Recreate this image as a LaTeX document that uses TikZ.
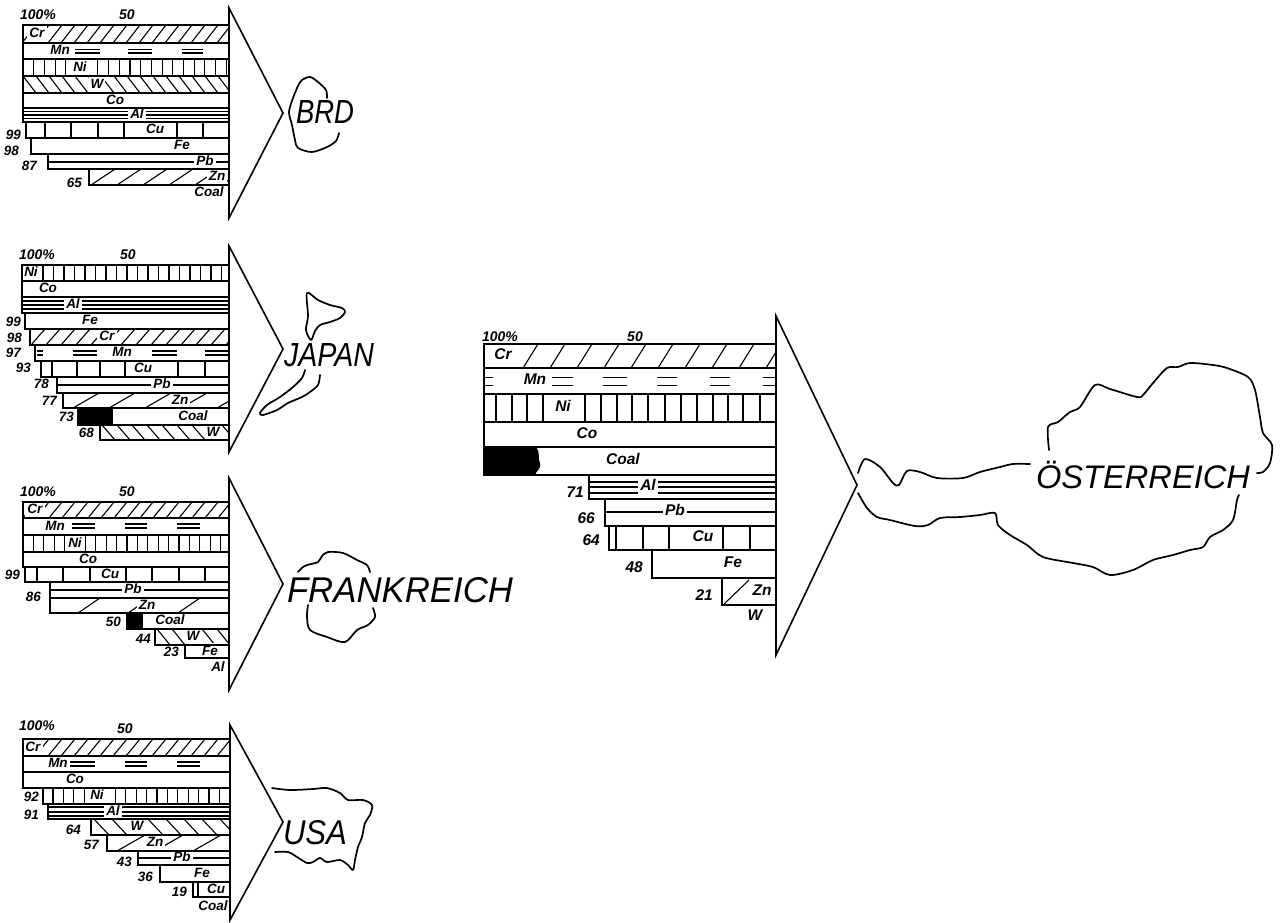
\documentclass[tikz,border=0pt]{standalone}
\usepackage{fontspec}
\setmainfont{Liberation Sans}
\usepackage{graphicx}
\tikzset{
 row/.style={line width=1.6pt, line join=miter},
 pat/.style={line width=1.1pt},
 tri/.style={line width=1.6pt, line join=miter},
 outl/.style={line width=1.7pt, line cap=round, line join=round},
 lab/.style={font=\bfseries\itshape\fontsize{13.5}{13.5}\selectfont, inner xsep=2pt, inner ysep=2.2pt, text height=9.5pt, text depth=2.5pt, fill=white},
 labA/.style={font=\bfseries\itshape\fontsize{15.5}{15.5}\selectfont, inner xsep=2.5pt, inner ysep=4pt, text height=11pt, text depth=4pt, fill=white},
 top/.style={font=\bfseries\itshape\fontsize{14}{14}\selectfont, inner sep=0pt},
 num/.style={font=\bfseries\itshape\fontsize{13.5}{13.5}\selectfont, inner sep=1pt, anchor=east},
 numA/.style={font=\bfseries\itshape\fontsize{15.5}{15.5}\selectfont, inner sep=1pt, anchor=east},
 country/.style={font=\itshape\fontsize{32}{32}\selectfont, inner sep=0pt},
}
% x0 y0 x1 y1 spacing dx
\newcommand\hatchR[6]{%
  \begin{scope}
    \clip (#1,#2) rectangle (#3,#4);
    \pgfmathtruncatemacro\hn{(#3-#1+#6)/#5+1}
    \foreach \i in {0,...,\hn}{\draw[pat] ({#1+\i*#5-#6},#4) -- ({#1+\i*#5},#2);}
  \end{scope}}
\newcommand\hatchL[6]{%
  \begin{scope}
    \clip (#1,#2) rectangle (#3,#4);
    \pgfmathtruncatemacro\hn{(#3-#1+#6)/#5+1}
    \foreach \i in {0,...,\hn}{\draw[pat] ({#1+\i*#5-#6},#2) -- ({#1+\i*#5},#4);}
  \end{scope}}
% x0 y0 x1 y1 start spacing
\newcommand\vbarreg[6]{%
  \pgfmathtruncatemacro\vn{(#3-#5)/#6}
  \foreach \i in {0,...,\vn}{\draw[pat] ({#5+\i*#6},#2) -- ({#5+\i*#6},#4);}}
% y0 y1 list
\newcommand\vbarlist[3]{\foreach \xx in {#3}{\draw[pat] (\xx,#1) -- (\xx,#2);}}
% x0 x1 ya yb
\newcommand\mnd[4]{\draw[pat] (#1,#3) -- (#2,#3) (#1,#4) -- (#2,#4);}
\begin{document}
\begin{tikzpicture}[x=1pt,y=-1pt]
\useasboundingbox[fill=white] (0,0) rectangle (1280,922);

%================ BRD
\hatchR{23}{25}{229}{43}{13}{14}
\mnd{75}{100}{49.5}{53}\mnd{128}{152}{49.5}{53}\mnd{182}{203}{49.5}{53}
\vbarreg{23}{59}{229}{76}{33.7}{10.7}
\hatchL{23}{76}{229}{93}{13}{13}
\draw[pat] (23,111.5)--(229,111.5) (23,115)--(229,115) (23,118.5)--(229,118.5);
\vbarlist{122}{138}{45,71,98,124,177,203}
\draw[pat] (48,162)--(229,162);
\hatchR{89}{169}{229}{185}{26}{24}
\node[lab] (bCr) at (37,34) {Cr};
\node[lab] (bMn) at (60,51) {Mn};
\node[lab] (bNi) at (80,67.5) {Ni};
\node[lab] (bW) at (97,84.5) {W};
\node[lab] (bCo) at (115,100.5) {Co};
\node[lab] (bAl) at (137,115) {Al};
\node[lab] (bCu) at (155,130) {Cu};
\node[lab] (bFe) at (182,146) {Fe};
\node[lab] (bPb) at (205,161.5) {Pb};
\node[lab] (bZn) at (217,177) {Zn};
\node[lab] (bCoal) at (209,193) {Coal};
\node[num] (b99) at (22,135) {99};
\node[num] (b98) at (20,151) {98};
\node[num] (b87) at (38,166) {87};
\node[num] (b65) at (83,183) {65};
\node[top] (b100) at (38,15) {100\%};
\node[top] (b50) at (127,15) {50};
\foreach \a/\b/\c/\d in {23/25/229/43,23/43/229/59,23/59/229/76,23/76/229/93,23/93/229/108,23/108/229/122,26/122/229/138,31/138/229/154,48/154/229/169,89/169/229/185}
  \draw[row] (\a,\b) rectangle (\c,\d);
\draw[tri] (229,8) -- (283,113) -- (229,218) -- cycle;
\node[country] (brd) at (325,112) {\resizebox{58pt}{23pt}{BRD}};
\draw[outl] plot[smooth,tension=0.5] coordinates {(327,98) (326,90) (318,82) (310,77) (302,80) (298,86) (293,98) (289,112) (292,125) (295,140) (298,148) (312,152) (327,147) (336,141) (339,133)};

%================ JAPAN
\vbarreg{22}{265}{229}{281}{32.5}{10.5}
\draw[pat] (22,301)--(229,301) (22,305)--(229,305) (22,309)--(229,309);
\hatchR{30}{329}{229}{345}{15}{14}
\mnd{37}{43}{351}{355}\mnd{73}{97}{351}{355}\mnd{152}{177}{351}{355}\mnd{205}{228}{351}{355}
\vbarlist{361}{377}{52,77,100,125,178,205}
\draw[pat] (57,385)--(229,385);
\hatchR{63}{393}{229}{408}{36}{26}
\fill (78,408) rectangle (113,425);
\hatchL{100}{425}{229}{440}{15}{13}
\node[lab] (jNi) at (31,273) {Ni};
\node[lab] (jCo) at (48,289) {Co};
\node[lab] (jAl) at (73,305) {Al};
\node[lab] (jFe) at (90,321) {Fe};
\node[lab] (jCr) at (107,337) {Cr};
\node[lab] (jMn) at (122,353) {Mn};
\node[lab] (jCu) at (143,369) {Cu};
\node[lab] (jPb) at (162,385) {Pb};
\node[lab] (jZn) at (180,400.5) {Zn};
\node[lab] (jCoal) at (193,416.5) {Coal};
\node[lab] (jW) at (213,432.5) {W};
\node[num] (j99) at (22,322) {99};
\node[num] (j98) at (23,338) {98};
\node[num] (j97) at (22,353) {97};
\node[num] (j93) at (32,368) {93};
\node[num] (j78) at (50,384) {78};
\node[num] (j77) at (58,401) {77};
\node[num] (j73) at (75,417) {73};
\node[num] (j68) at (95,433) {68};
\node[top] (j100) at (37,255) {100\%};
\node[top] (j50) at (128,255) {50};
\foreach \a/\b/\c/\d in {22/265/229/281,22/281/229/297,22/297/229/313,25/313/229/329,30/329/229/345,35/345/229/361,41/361/229/377,57/377/229/393,63/393/229/408,78/408/229/425,100/425/229/440}
  \draw[row] (\a,\b) rectangle (\c,\d);
\draw[tri] (229,246) -- (283,349) -- (229,452) -- cycle;
\node[country] (japan) at (329,355) {\resizebox{90pt}{23pt}{JAPAN}};
\draw[outl] plot[smooth cycle,tension=0.5] coordinates {(311,340) (306,330) (308,316) (307,293) (318,300) (330,305) (342,308) (345,312) (340,318) (330,322) (320,325) (315,331)};
\draw[outl] plot[smooth,tension=0.5] coordinates {(305,370) (302,378) (293,387) (280,397) (267,405) (260,413) (263,415) (277,410) (288,403) (302,397) (310,392) (318,385) (320,375)};

%================ FRANKREICH
\hatchR{23}{502}{229}{518}{13}{13}
\mnd{72}{95}{524}{528}\mnd{125}{147}{524}{528}\mnd{177}{200}{524}{528}
\vbarreg{23}{535}{229}{552}{33.4}{10.4}
\vbarlist{567}{582}{37,63,90,126,152,179,205}
\draw[pat] (50,590)--(229,590);
\hatchR{50}{598}{229}{613}{50}{22}
\fill (127,613) rectangle (143,629);
\hatchL{155}{629}{229}{645}{15}{13}
\node[lab] (fCr) at (35,510) {Cr};
\node[lab] (fMn) at (55,526.5) {Mn};
\node[lab] (fNi) at (75,543.5) {Ni};
\node[lab] (fCo) at (88,559.5) {Co};
\node[lab] (fCu) at (110,574.5) {Cu};
\node[lab] (fPb) at (133,590) {Pb};
\node[lab] (fZn) at (147,605.5) {Zn};
\node[lab] (fCoal) at (170,621) {Coal};
\node[lab] (fW) at (193,637) {W};
\node[lab] (fFe) at (210,651.5) {Fe};
\node[lab] (fAl) at (218,668) {Al};
\node[num] (f99) at (21,575) {99};
\node[num] (f86) at (42,597) {86};
\node[num] (f50n) at (122,622) {50};
\node[num] (f44) at (152,639) {44};
\node[num] (f23) at (180,652) {23};
\node[top] (f100) at (38,492) {100\%};
\node[top] (f50) at (127,492) {50};
\foreach \a/\b/\c/\d in {23/502/229/518,23/518/229/535,23/535/229/552,23/552/229/567,25/567/229/582,50/582/229/598,50/598/229/613,127/613/229/629,155/629/229/645,185/645/229/658}
  \draw[row] (\a,\b) rectangle (\c,\d);
\draw[tri] (229,478) -- (283,584) -- (229,690) -- cycle;
\node[country] (frank) at (400,590) {\resizebox{226pt}{25pt}{FRANKREICH}};
\draw[outl] plot[smooth,tension=0.5] coordinates {(298,572) (303,567) (307,565) (318,562) (322,556) (328,552) (343,553) (357,560) (367,565) (370,572)};
\draw[outl] plot[smooth,tension=0.5] coordinates {(308,605) (307,617) (310,630) (327,637) (345,642) (357,630) (368,625) (375,617) (373,608)};

%================ USA
\hatchR{23}{739}{230}{756}{13}{14}
\mnd{70}{95}{762}{766}\mnd{125}{147}{762}{766}\mnd{177}{200}{762}{766}
\vbarreg{43}{788}{230}{804}{53}{10.4}
\draw[pat] (48,807)--(230,807) (48,812)--(230,812) (48,816)--(230,816);
\hatchL{91}{819}{230}{835}{18}{15}
\hatchR{107}{835}{230}{851}{38}{28}
\draw[pat] (138,858)--(230,858);
\vbarlist{882}{897}{198}
\node[lab] (uCr) at (33,747.5) {Cr};
\node[lab] (uMn) at (58,764) {Mn};
\node[lab] (uCo) at (75,780) {Co};
\node[lab] (uNi) at (97,796) {Ni};
\node[lab] (uAl) at (113,811.5) {Al};
\node[lab] (uW) at (137,827) {W};
\node[lab] (uZn) at (155,843) {Zn};
\node[lab] (uPb) at (182,858) {Pb};
\node[lab] (uFe) at (202,873.5) {Fe};
\node[lab] (uCu) at (216,889.5) {Cu};
\node[lab] (uCoal) at (213,907) {Coal};
\node[num] (u92) at (40,797) {92};
\node[num] (u91) at (40,815) {91};
\node[num] (u64) at (82,830) {64};
\node[num] (u57) at (100,845) {57};
\node[num] (u43) at (133,862) {43};
\node[num] (u36) at (154,877) {36};
\node[num] (u19) at (188,892) {19};
\node[top] (u100) at (37,726) {100\%};
\node[top] (u50) at (125,729) {50};
\foreach \a/\b/\c/\d in {23/739/230/756,23/756/230/772,23/772/230/788,43/788/230/804,48/804/230/819,91/819/230/835,107/835/230/851,138/851/230/865,160/865/230/882,193/882/230/897}
  \draw[row] (\a,\b) rectangle (\c,\d);
\draw[tri] (230,725) -- (283,822) -- (230,920) -- cycle;
\node[country] (usa) at (315,833) {\resizebox{64pt}{24pt}{USA}};
\draw[outl] plot[smooth,tension=0.5] coordinates {(272,788) (290,790) (313,789) (327,788) (340,793) (348,800) (363,800) (372,805) (370,815) (365,823) (362,837) (358,847) (355,860) (353,870) (348,865) (340,860) (327,862) (320,858) (313,862) (307,863) (297,857) (288,852) (275,852)};

%================ OESTERREICH
\hatchR{484}{344}{776}{368}{27}{15}
\mnd{485}{493}{377.5}{385.5}\mnd{552}{573}{377.5}{385.5}\mnd{603}{627}{377.5}{385.5}\mnd{657}{677}{377.5}{385.5}\mnd{710}{730}{377.5}{385.5}\mnd{763}{775}{377.5}{385.5}
\vbarlist{394}{422}{496,512,527,543,585,601,617,632,648,665,681,697,713,728,743,760}
\fill (484,447) -- (536,447) .. controls (541,452) and (537,458) .. (540,463) .. controls (542,468) and (536,471) .. (535,475) -- (484,475) -- cycle;
\draw[pat] (589,482)--(776,482) (589,487)--(776,487) (589,493)--(776,493);
\draw[pat] (605,512)--(776,512);
\vbarlist{526}{550}{616,643,669,723,750}
\draw[pat] (723,605) -- (749,580);
\node[labA] (aCr) at (503,356) {Cr};
\node[labA] (aMn) at (535,381) {Mn};
\node[labA] (aNi) at (563,408) {Ni};
\node[labA] (aCo) at (587,434.5) {Co};
\node[labA] (aCoal) at (623,461) {Coal};
\node[labA] (aAl) at (648,487) {Al};
\node[labA] (aPb) at (675,512) {Pb};
\node[labA] (aCu) at (703,538) {Cu};
\node[labA] (aFe) at (733,564) {Fe};
\node[labA] (aZn) at (762,592) {Zn};
\node[labA] (aW) at (755,617) {W};
\node[numA] (a71) at (585,492) {71};
\node[numA] (a66) at (596,518) {66};
\node[numA] (a64) at (601,540) {64};
\node[numA] (a48) at (644,567) {48};
\node[numA] (a21) at (714,595) {21};
\node[top] (a100) at (500,337) {100\%};
\node[top] (a50) at (635,337) {50};
\foreach \a/\b/\c/\d in {484/344/776/368,484/368/776/394,484/394/776/422,484/422/776/447,484/447/776/475,589/475/776/499,605/499/776/526,609/526/776/550,652/550/776/578,722/578/776/605}
  \draw[row] (\a,\b) rectangle (\c,\d);
\draw[tri] (776,316) -- (857,485) -- (776,655) -- cycle;
\node[country] (oest) at (1143,475) {\resizebox{214pt}{!}{ÖSTERREICH}};
\draw[outl] plot[smooth,tension=0.5] coordinates {(858,473) (865,459) (880,467) (893,483) (899,485) (907,471) (920,472) (937,478) (963,478) (980,472) (1000,467) (1013,464) (1030,464)};
\draw[outl] plot[smooth,tension=0.5] coordinates {(1049,450) (1048,427) (1058,422) (1070,412) (1080,407) (1095,385) (1110,389) (1137,397) (1143,395) (1153,383) (1167,368) (1178,367) (1190,363) (1213,365) (1227,368) (1248,377) (1255,390) (1260,417) (1263,433) (1272,445) (1270,463) (1263,472) (1257,473)};
\draw[outl] plot[smooth,tension=0.5] coordinates {(858,493) (867,508) (877,517) (890,520) (915,526) (928,525) (940,518) (960,517) (980,515) (995,513) (998,525) (1010,535) (1027,545) (1043,557) (1073,563) (1093,567) (1110,575) (1133,570) (1153,560) (1173,555) (1190,550) (1203,547) (1210,537) (1223,530) (1233,520) (1237,500) (1239,495)};
\end{tikzpicture}
\end{document}
